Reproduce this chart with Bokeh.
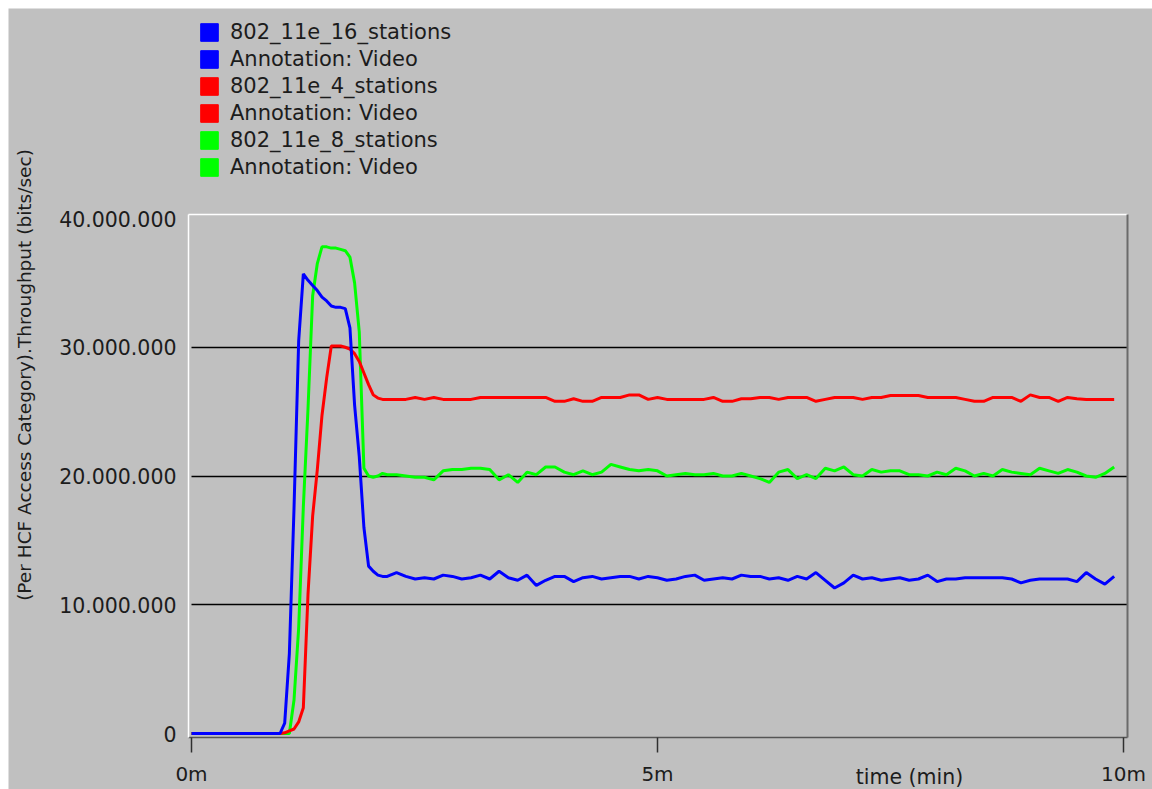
import math
from bokeh.plotting import figure
from bokeh.models import (Range1d, FixedTicker, Legend, LegendItem, Label,
                          LinearAxis, Grid)
from bokeh.embed import file_html
from bokeh.resources import INLINE

# ---------------- data (throughput in Mbit/s, time in minutes) ----------------
T_START = [0.0]
T_RISE = [round(0.95 + 0.05 * i, 2) for i in range(24)]      # 0.95 .. 2.10
T_STEADY = [round(2.2 + 0.1 * i, 1) for i in range(78)]      # 2.2 .. 9.9
time_min = T_START + T_RISE + T_STEADY

s16_rise = [0, 0.8, 6.2, 17.5, 30.5, 35.7, 35.2, 34.8, 34.4, 33.9, 33.6, 33.2,
            33.1, 33.1, 33.0, 31.5, 25.5, 21.5, 16.0, 13.0, 12.6, 12.3, 12.2, 12.2]
s16_steady = [12.5, 12.2, 12.0, 12.1, 12.0, 12.3, 12.2, 12.0, 12.1, 12.3,
              12.0, 12.6, 12.1, 11.9, 12.3, 11.5, 11.9, 12.2, 12.2, 11.8,
              12.1, 12.2, 12.0, 12.1, 12.2, 12.2, 12.0, 12.2, 12.1, 11.9,
              12.0, 12.2, 12.3, 11.9, 12.0, 12.1, 12.0, 12.3, 12.2, 12.2,
              12.0, 12.1, 11.9, 12.2, 12.0, 12.5, 11.9, 11.3, 11.7, 12.3,
              12.0, 12.1, 11.9, 12.0, 12.1, 11.9, 12.0, 12.3, 11.8, 12.0,
              12.0, 12.1, 12.1, 12.1, 12.1, 12.1, 12.0, 11.7, 11.9, 12.0,
              12.0, 12.0, 12.0, 11.8, 12.5, 12.0, 11.6, 12.2]
stations16 = [0] + s16_rise + s16_steady

s4_rise = [0, 0.05, 0.2, 0.35, 0.9, 2.0, 10.8, 16.9, 20.5, 24.7, 27.6, 30.1,
           30.1, 30.1, 30.0, 29.85, 29.5, 28.9, 28.0, 27.1, 26.3, 26.05, 25.95, 25.95]
s4_steady = [25.95, 25.95, 26.1, 25.95, 26.1, 25.95, 25.95, 25.95, 25.95, 26.1,
             26.1, 26.1, 26.1, 26.1, 26.1, 26.1, 26.1, 25.8, 25.8, 26.0,
             25.8, 25.8, 26.1, 26.1, 26.1, 26.3, 26.3, 25.95, 26.1, 25.95,
             25.95, 25.95, 25.95, 25.95, 26.1, 25.8, 25.8, 26.0, 26.0, 26.1,
             26.1, 25.95, 26.1, 26.1, 26.1, 25.8, 25.95, 26.1, 26.1, 26.1,
             25.95, 26.1, 26.1, 26.25, 26.25, 26.25, 26.25, 26.1, 26.1, 26.1,
             26.1, 25.95, 25.8, 25.8, 26.1, 26.1, 26.1, 25.8, 26.3, 26.1,
             26.1, 25.8, 26.1, 26.0, 25.95, 25.95, 25.95, 25.95]
stations4 = [0] + s4_rise + s4_steady

s8_rise = [0, 0, 0, 2.6, 8.2, 17.6, 25.2, 34.0, 36.5, 37.8, 37.8, 37.7,
           37.7, 37.6, 37.5, 37.0, 35.0, 31.2, 20.6, 20.0, 19.9, 20.0, 20.2, 20.1]
s8_steady = [20.1, 20.0, 19.9, 19.9, 19.7, 20.4, 20.5, 20.5, 20.6, 20.6,
             20.5, 19.7, 20.1, 19.5, 20.3, 20.1, 20.7, 20.7, 20.3, 20.1,
             20.4, 20.1, 20.3, 20.9, 20.7, 20.5, 20.4, 20.5, 20.4, 20.0,
             20.1, 20.2, 20.1, 20.1, 20.2, 20.0, 20.0, 20.2, 20.0, 19.8,
             19.5, 20.3, 20.5, 19.8, 20.1, 19.8, 20.6, 20.4, 20.7, 20.1,
             20.0, 20.5, 20.3, 20.4, 20.4, 20.1, 20.1, 20.0, 20.3, 20.1,
             20.6, 20.4, 20.0, 20.2, 20.0, 20.5, 20.3, 20.2, 20.1, 20.6,
             20.4, 20.2, 20.5, 20.3, 20.0, 19.9, 20.2, 20.7]
stations8 = [0] + s8_rise + s8_steady

SERIES_NAMES = ["802_11e_16_stations", "802_11e_4_stations", "802_11e_8_stations"]
ANNOTATION = "Annotation: Video"
X_TICKS = [0, 5, 10]
X_TICK_LABELS = ["0m", "5m", "10m"]
Y_TICKS = [0, 10_000_000, 20_000_000, 30_000_000, 40_000_000]
Y_GRID = [10_000_000, 20_000_000, 30_000_000]
Y_TITLE = "(Per HCF Access Category).Throughput (bits/sec)"
X_TITLE = "time (min)"

# ---------------- layout / styling ----------------
BG = "#c0c0c0"
FONT = "DejaVu Sans"
TXT = "#1c1c1c"
COLORS = {"16": "#0000ff", "4": "#ff0000", "8": "#00ff00"}

W, H = 1152, 789
M = 8                       # white page-like strip at left / top
PX_X0, KX = 191.0, 93.2     # pixel of t=0, pixels per minute
PX_Y0, KY = 733.0, 12.875   # pixel of 0 bit/s, pixels per Mbit/s
PLOT_L, PLOT_R, PLOT_T, PLOT_B = 188, 1127, 214, 737   # plot-area edges (px)

px2t = lambda px: (px - PX_X0) / KX
py2v = lambda py: (PX_Y0 - py) / KY * 1e6

PLOT_X0, PLOT_X1 = px2t(PLOT_L), px2t(PLOT_R)
PLOT_Y0, PLOT_Y1 = py2v(PLOT_B), py2v(PLOT_T)

p = figure(width=W, height=H, output_backend="svg", toolbar_location=None,
           title=None, x_axis_type=None, y_axis_type=None,
           x_range=Range1d(px2t(M), px2t(W)), y_range=Range1d(py2v(H), py2v(M)),
           min_border_left=M, min_border_top=M, min_border_right=0,
           min_border_bottom=0, background_fill_color=BG,
           border_fill_color="white")
p.outline_line_color = None

to_bits = lambda arr: [v * 1e6 for v in arr]

# horizontal grid lines
if "cross_bounds" in Grid.properties():
    g = Grid(dimension=1, ticker=FixedTicker(ticks=Y_GRID),
             cross_bounds=(0, PLOT_X1), grid_line_color="black",
             grid_line_width=1.3)
    p.add_layout(g)
else:
    p.segment(x0=[0] * len(Y_GRID), x1=[PLOT_X1] * len(Y_GRID), y0=Y_GRID,
              y1=Y_GRID, line_color="black", line_width=1.3)

# lines (drawn green, red, blue so blue sits on top)
LW = 3
p.line(time_min, to_bits(stations8), line_color=COLORS["8"], line_width=LW)
p.line(time_min, to_bits(stations4), line_color=COLORS["4"], line_width=LW)
p.line(time_min, to_bits(stations16), line_color=COLORS["16"], line_width=LW)

# legend swatches (renderers that only feed the legend; NaN = nothing drawn)
NAN = [float("nan")]
sq16 = p.quad(left=NAN, right=NAN, top=NAN, bottom=NAN, fill_color=COLORS["16"], line_color=COLORS["16"])
sq4 = p.quad(left=NAN, right=NAN, top=NAN, bottom=NAN, fill_color=COLORS["4"], line_color=COLORS["4"])
sq8 = p.quad(left=NAN, right=NAN, top=NAN, bottom=NAN, fill_color=COLORS["8"], line_color=COLORS["8"])

items = [
    LegendItem(label=SERIES_NAMES[0], renderers=[sq16]),
    LegendItem(label=ANNOTATION, renderers=[sq16]),
    LegendItem(label=SERIES_NAMES[1], renderers=[sq4]),
    LegendItem(label=ANNOTATION, renderers=[sq4]),
    LegendItem(label=SERIES_NAMES[2], renderers=[sq8]),
    LegendItem(label=ANNOTATION, renderers=[sq8]),
]
legend = Legend(items=items, location=(198 - M, H - 179), orientation="vertical",
                glyph_width=22, glyph_height=22, label_height=22, spacing=3,
                padding=0, margin=0, label_standoff=10,
                border_line_color=None, background_fill_alpha=0,
                label_text_font=FONT, label_text_font_size="21px",
                label_text_color=TXT)
p.add_layout(legend)

# x axis (bottom edge of plot area)
xa = LinearAxis(fixed_location=PLOT_Y0, bounds=(PLOT_X0, PLOT_X1),
                ticker=FixedTicker(ticks=X_TICKS),
                major_label_overrides=dict(zip(X_TICKS, X_TICK_LABELS)))
xa.minor_tick_line_color = None
xa.major_tick_in = 0
xa.major_tick_out = 15
xa.major_tick_line_color = "#303030"
xa.major_tick_line_width = 1.5
xa.axis_line_color = "#555555"
xa.axis_line_width = 1.5
xa.major_label_standoff = 9
xa.major_label_text_font = FONT
xa.major_label_text_font_size = "20px"
xa.major_label_text_color = TXT
p.add_layout(xa, "below")

# y axis (left edge of plot area)
ya = LinearAxis(fixed_location=PLOT_X0, bounds=(PLOT_Y0, PLOT_Y1),
                ticker=FixedTicker(ticks=Y_TICKS),
                major_label_overrides={v: f"{v:,}".replace(",", ".") for v in Y_TICKS})
ya.major_tick_line_color = None
ya.minor_tick_line_color = None
ya.major_tick_in = 0
ya.major_tick_out = 0
ya.minor_tick_in = 0
ya.minor_tick_out = 0
ya.axis_line_color = "white"
ya.axis_line_width = 1.5
ya.major_label_standoff = 12
ya.major_label_text_font = FONT
ya.major_label_text_font_size = "20.5px"
ya.major_label_text_color = TXT
p.add_layout(ya, "left")

# top (white) and right (dark grey) edges of the plot area
ta = LinearAxis(fixed_location=PLOT_Y1, bounds=(PLOT_X0, PLOT_X1),
                ticker=FixedTicker(ticks=[]), axis_line_color="white",
                axis_line_width=1.5, major_tick_line_color=None,
                minor_tick_line_color=None, major_label_text_font_size="0px")
p.add_layout(ta, "above")
ra = LinearAxis(fixed_location=PLOT_X1, bounds=(PLOT_Y0, PLOT_Y1),
                ticker=FixedTicker(ticks=[]), axis_line_color="#6a6a6a",
                axis_line_width=2, major_tick_line_color=None,
                minor_tick_line_color=None, major_label_text_font_size="0px")
p.add_layout(ra, "right")

# titles
p.add_layout(Label(x=px2t(24), y=py2v(374.5), text=Y_TITLE, angle=math.pi / 2,
                   text_align="center", text_baseline="middle",
                   text_font=FONT, text_font_size="18.5px", text_color=TXT))
p.add_layout(Label(x=px2t(909), y=py2v(764), text=X_TITLE, text_align="center",
                   text_baseline="top", text_font=FONT, text_font_size="20.5px",
                   text_color=TXT))

open("out.html", "w").write(file_html(p, INLINE))
